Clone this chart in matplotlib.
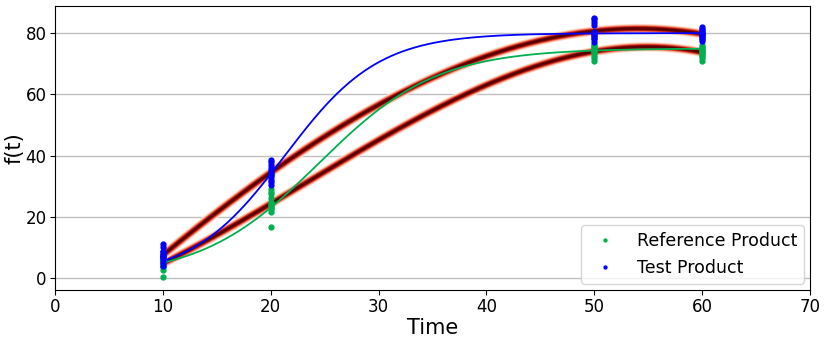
import numpy as np
import matplotlib.pyplot as plt
from matplotlib.colors import LinearSegmentedColormap

# sampling times and replicate measurements
times = [10, 20, 50, 60]
ref_values = [
    [0.3, 2.5, 3.5, 4.0, 4.5, 5.0, 5.5, 6.0, 6.5, 7.0, 7.5, 5.2],
    [16.7, 21.5, 22.5, 23.0, 24.0, 24.5, 25.0, 26.0, 27.5, 28.0, 29.0, 23.5],
    [71.0, 72.0, 72.5, 73.5, 74.0, 74.5, 75.0, 75.5, 76.0, 76.0, 74.5, 73.5],
    [71.0, 72.0, 72.5, 73.0, 73.5, 74.0, 74.5, 75.0, 75.5, 76.0, 74.0, 73.5],
]
test_values = [
    [4.0, 5.0, 6.0, 6.5, 7.0, 7.5, 8.0, 8.5, 9.0, 10.0, 11.0, 7.2],
    [30.5, 31.5, 32.0, 33.0, 33.5, 34.0, 34.5, 35.0, 36.0, 37.0, 38.0, 38.5],
    [77.0, 78.0, 78.5, 79.0, 79.5, 80.0, 80.0, 80.5, 82.5, 83.5, 84.5, 85.0],
    [77.5, 78.0, 78.5, 79.0, 79.5, 80.0, 80.5, 81.0, 81.5, 82.0, 80.0, 79.5],
]

# logistic fit parameters (fmax, k, t0)
ref_fit = (75.0, 0.1827, 24.46)
test_fit = (80.0, 0.2304, 21.31)

ref_color = '#00b050'
test_color = '#0000ff'


def logistic(t, fmax, k, t0):
    return fmax / (1 + np.exp(-k * (t - t0)))


def glow_line(ax, x, y):
    cmap = LinearSegmentedColormap.from_list('glow', ['#fff3ec', '#f9b496', '#e02a1a', '#5a0000'])
    widths = np.linspace(7, 1.6, 12)
    for i, w in enumerate(widths):
        ax.plot(x, y, color=cmap(i / (len(widths) - 1)), lw=w, solid_capstyle='butt', zorder=1)


fig = plt.figure(figsize=(8.3, 3.42), dpi=100)
ax = fig.add_axes([0.0663, 0.152, 0.9096, 0.830])

tt = np.linspace(10, 60, 400)

# cubic through mean profiles
for vals in (ref_values, test_values):
    means = [np.mean(v) for v in vals]
    coef = np.polyfit(times, means, 3)
    glow_line(ax, tt, np.polyval(coef, tt))

ax.plot(tt, logistic(tt, *ref_fit), color=ref_color, lw=1.3, zorder=2)
ax.plot(tt, logistic(tt, *test_fit), color=test_color, lw=1.3, zorder=2)

for i, t in enumerate(times):
    ax.plot([t] * len(ref_values[i]), ref_values[i], 'o', color=ref_color, ms=3.5, zorder=3,
            label='Reference Product' if i == 0 else None)
for i, t in enumerate(times):
    ax.plot([t] * len(test_values[i]), test_values[i], 'o', color=test_color, ms=3.5, zorder=3,
            label='Test Product' if i == 0 else None)

ax.set_xlim(0, 70)
ax.set_ylim(-3.9, 88.8)
ax.set_xticks(range(0, 71, 10))
ax.set_yticks(range(0, 81, 20))
ax.yaxis.grid(True, color='#c0c0c0', lw=1)
ax.set_axisbelow(True)
ax.tick_params(labelsize=12, pad=2.5)
ax.set_xlabel('Time', fontsize=15, labelpad=1)
ax.set_ylabel('f(t)', fontsize=15)
ax.yaxis.set_label_coords(-0.041, 0.5)
ax.legend(loc='lower right', fontsize=12.5, markerscale=0.6, borderaxespad=0.35)

fig.savefig('out.png', dpi=100)
